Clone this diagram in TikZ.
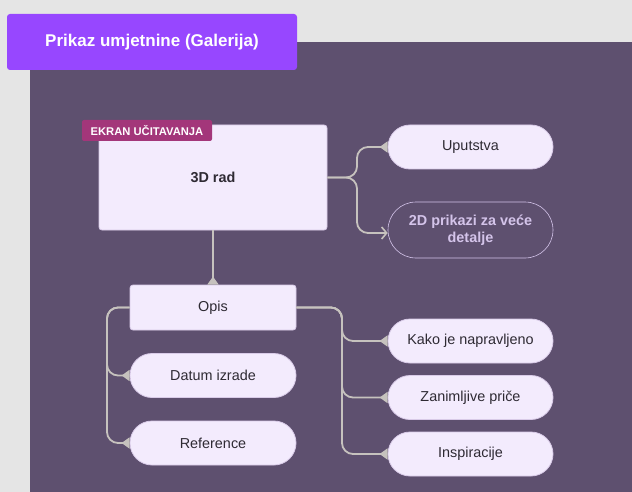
\documentclass[tikz,border=0pt]{standalone}
\usepackage{fontspec}
\setmainfont{Liberation Sans}
\usetikzlibrary{arrows.meta}
\definecolor{bgc}{HTML}{E5E5E5}
\definecolor{panel}{HTML}{5E506F}
\definecolor{titlec}{HTML}{9747FF}
\definecolor{tagc}{HTML}{A3367A}
\definecolor{cardc}{HTML}{F3EBFD}
\definecolor{cardline}{HTML}{D9CBE8}
\definecolor{txtc}{HTML}{2E2A33}
\definecolor{linec}{HTML}{C6C2BE}
\definecolor{ghost}{HTML}{D4C4EA}
\tikzset{
  card/.style={draw=cardline, line width=0.8pt, fill=cardc, text=txtc, font=\fontsize{14.4}{17}\selectfont, inner sep=0pt},
  boxcard/.style={card, rounded corners=3pt},
  pill/.style={card, rounded corners=22pt, minimum width=165pt, minimum height=44pt},
  conn/.style={draw=linec, line width=1.8pt, rounded corners=11pt},
  tri/.style={conn, -{Triangle[reversed, length=8pt, width=11pt, fill=linec]}},
  barb/.style={conn, -{Straight Barb[length=5pt, width=12pt, line width=1.6pt]}},
}
\begin{document}
\begin{tikzpicture}[x=1pt, y=-1pt]
\useasboundingbox (0,0) rectangle (632,492);
\fill[bgc] (0,0) rectangle (632,492);
\fill[panel] (30,42) rectangle (632,492);
\node[fill=titlec, rounded corners=3pt, minimum width=290pt, minimum height=56pt, text=white, font=\fontsize{17}{20}\bfseries\selectfont, inner sep=0pt] (title) at (152,42) {Prikaz umjetnine (Galerija)};

\node[boxcard, minimum width=228pt, minimum height=105pt, font=\fontsize{14.4}{17}\bfseries\selectfont] (rad) at (213,177.5) {3D rad};
\node[fill=tagc, rounded corners=2pt, minimum width=130pt, minimum height=21pt, text=white, font=\fontsize{11.2}{13}\bfseries\selectfont, inner sep=0pt] (tag) at (147,130.5) {EKRAN UČITAVANJA};

\node[pill] (upu) at (470.5,147) {Uputstva};
\node[pill, fill=none, draw=ghost, line width=0.6pt, text=ghost, minimum height=56pt, rounded corners=28pt, align=center, font=\fontsize{14.4}{17.5}\bfseries\selectfont] (dva) at (470.5,230) {2D prikazi za veće\\detalje};

\node[boxcard, minimum width=166pt, minimum height=45pt] (opis) at (213,307.5) {Opis};
\node[pill, minimum width=166pt] (dat) at (213,375.5) {Datum izrade};
\node[pill, minimum width=166pt] (ref) at (213,443) {Reference};

\node[pill] (kako) at (470.5,341) {Kako je napravljeno};
\node[pill] (zan) at (470.5,397.5) {Zanimljive priče};
\node[pill] (ins) at (470.5,454) {Inspiracije};

\draw[tri] (rad.east) -- (357,177.5) -- (357,147) -- (upu.west);
\draw[barb] (rad.east) -- (357,177.5) -- (357,233) -- (dva.west |- 0,233);
\draw[tri] (rad.south) -- (opis.north);
\draw[tri] (opis.west) -- (107,307.5) -- (107,375.5) -- (dat.west);
\draw[tri] (opis.west) -- (107,307.5) -- (107,443) -- (ref.west);
\draw[tri] (opis.east) -- (342,307.5) -- (342,341) -- (kako.west);
\draw[tri] (opis.east) -- (342,307.5) -- (342,397.5) -- (zan.west);
\draw[tri] (opis.east) -- (342,307.5) -- (342,454) -- (ins.west);
\end{tikzpicture}
\end{document}
